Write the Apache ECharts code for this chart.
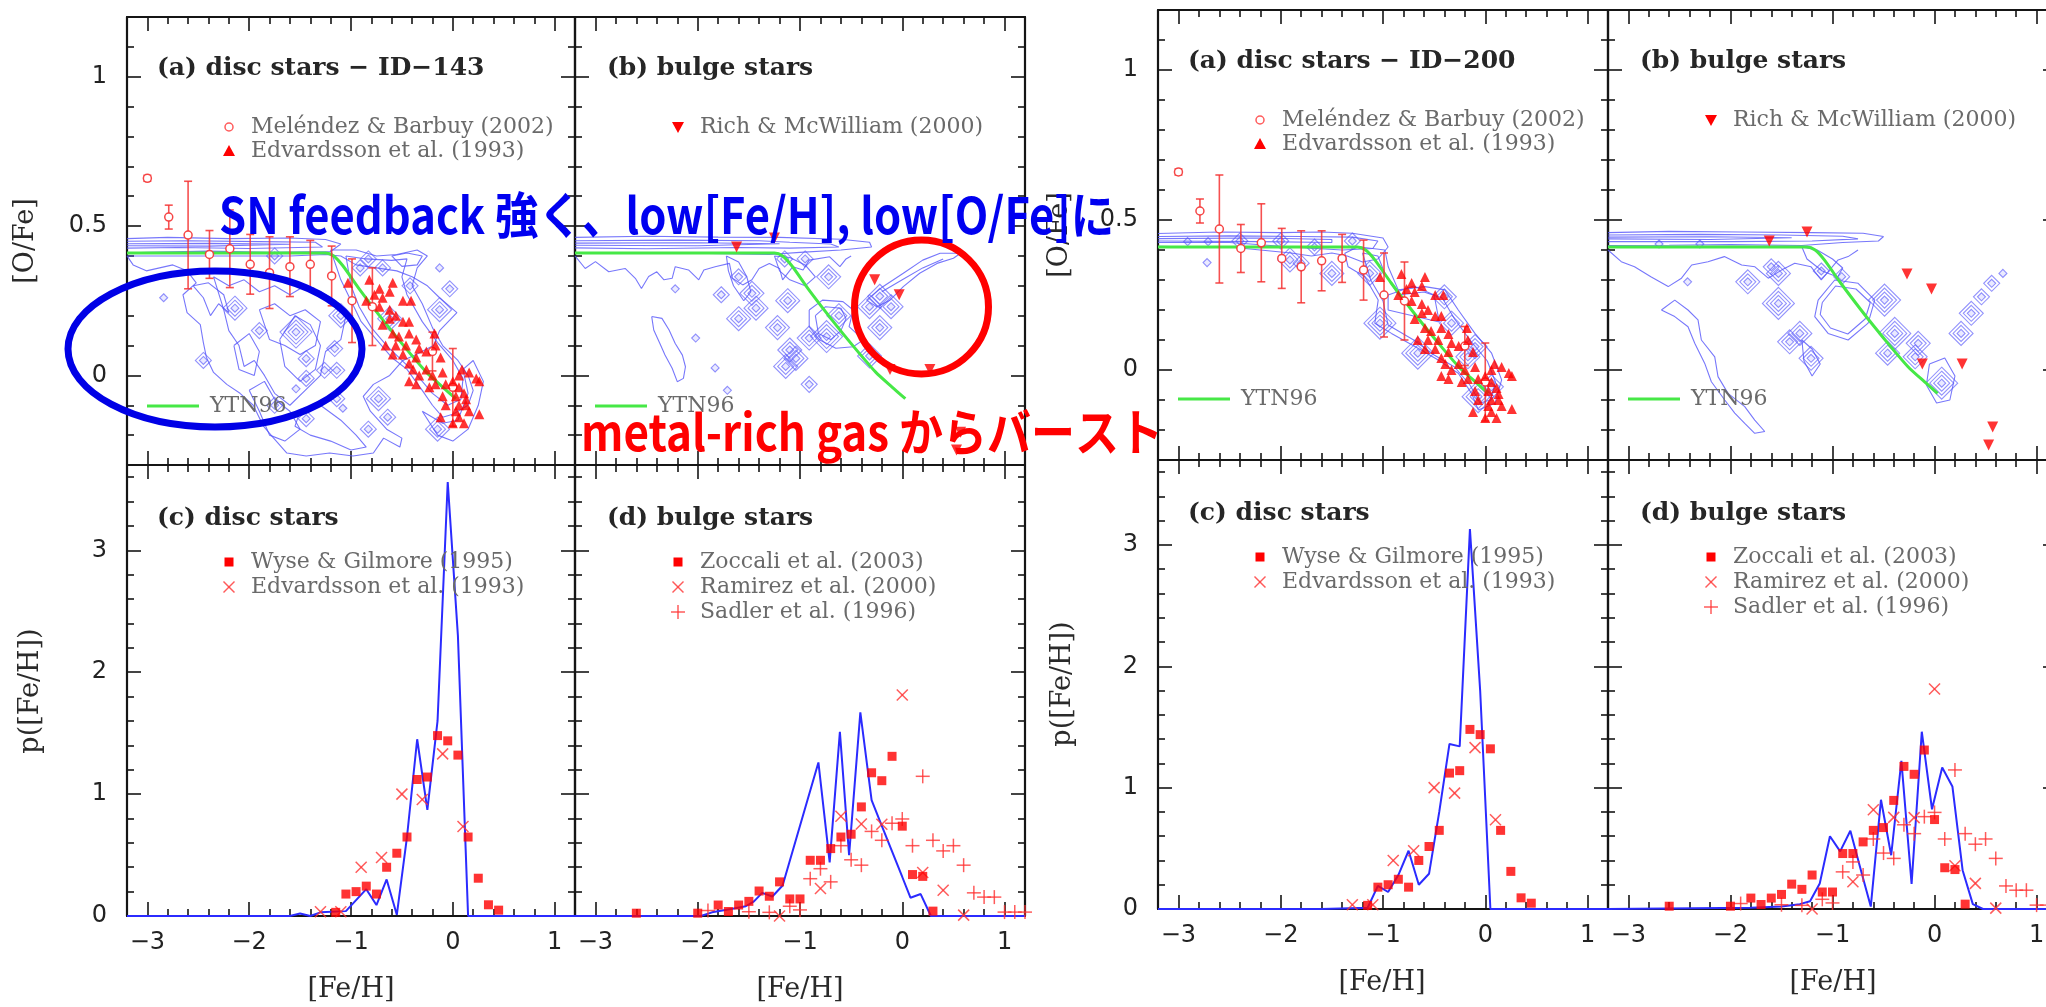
<!DOCTYPE html>
<html>
<head>
<meta charset="utf-8">
<script src="https://cdn.jsdelivr.net/npm/echarts@6/dist/echarts.min.js"></script>
<style>html,body{margin:0;padding:0;background:#fff}#chart{width:2046px;height:1007px}</style>
</head>
<body>
<div id="chart"></div>
<script>
// ---------- observational data (same in both figures) ----------
// Melendez & Barbuy (2002): [Fe/H], [O/Fe], error
const melendezFeH = [-3.0, -2.79, -2.6, -2.39, -2.19, -1.99, -1.8, -1.6, -1.4, -1.19, -0.99, -0.79, -0.2, 0.0];
const melendezOFe = [0.66, 0.53, 0.47, 0.405, 0.424, 0.372, 0.344, 0.364, 0.372, 0.333, 0.25, 0.23, 0.08, -0.04];
const melendezErr = [0.01, 0.04, 0.18, 0.08, 0.13, 0.1, 0.12, 0.1, 0.08, 0.1, 0.14, 0.13, 0.065, 0.13];

// Edvardsson et al. (1993) disc stars: [Fe/H], [O/Fe]
const edvardssonOFe = [
  [-1.03,0.31],[-0.82,0.32],[-0.72,0.29],[-0.59,0.31],[-0.77,0.27],[-0.69,0.26],[-0.62,0.28],[-0.49,0.25],
  [-0.85,0.25],[-0.72,0.23],[-0.62,0.22],[-0.56,0.20],[-0.49,0.18],[-0.43,0.18],[-0.41,0.25],[-0.62,0.19],
  [-0.69,0.17],[-0.59,0.14],[-0.53,0.13],[-0.43,0.14],[-0.56,0.10],[-0.46,0.10],[-0.36,0.12],[-0.33,0.09],
  [-0.26,0.08],[-0.18,0.14],[-0.17,0.10],[-0.12,0.06],[-0.49,0.07],[-0.43,0.04],[-0.36,0.06],[-0.66,0.10],
  [-0.59,0.07],[-0.39,0.02],[-0.33,0.0],[-0.26,0.02],[-0.20,0.0],[-0.10,0.01],[-0.43,-0.02],[-0.36,-0.03],
  [-0.23,-0.04],[-0.17,-0.03],[-0.07,-0.03],[0.0,-0.02],[0.06,0.0],[0.09,0.02],[0.16,0.01],[0.23,-0.01],
  [0.26,-0.02],[0.06,-0.04],[0.11,-0.06],[0.03,-0.07],[0.13,-0.08],[-0.10,-0.07],[-0.07,-0.10],[0.03,-0.12],
  [0.06,-0.14],[0.11,-0.16],[0.16,-0.12],[0.26,-0.13],[-0.12,-0.14],[0.0,-0.16],[0.06,-0.10],[0.13,-0.10]
];

// Rich & McWilliam (2000) bulge stars
const richOFe = [[-1.62,0.43],[-1.25,0.46],[-0.27,0.32],[-0.03,0.27],[-0.12,0.02],[0.27,0.02],[0.57,-0.19],[0.53,-0.25]];

// YTN96 chemical evolution model
const ytn96 = [[-3.2,0.41],[-1.25,0.41],[-1.17,0.40],[-1.08,0.367],[-0.92,0.29],[-0.72,0.2],[-0.59,0.144],[-0.43,0.078],[-0.26,0.011],[-0.1,-0.039],[0.03,-0.078]];

// metallicity distributions
const wyseMDF = [[-1.15,0.03],[-1.05,0.18],[-0.95,0.2],[-0.85,0.245],[-0.75,0.18],[-0.65,0.4],[-0.55,0.515],[-0.45,0.648],[-0.35,1.12],[-0.25,1.14],[-0.15,1.48],[-0.05,1.437],[0.05,1.32],[0.15,0.648],[0.25,0.31],[0.35,0.092],[0.45,0.048]];
const edvardssonMDF = [[-1.3,0.035],[-1.1,0.035],[-0.9,0.4],[-0.7,0.48],[-0.5,1.0],[-0.3,0.955],[-0.1,1.33],[0.1,0.735]];
const zoccaliMDF = [[-2.6,0.023],[-2.0,0.023],[-1.8,0.09],[-1.7,0.037],[-1.6,0.09],[-1.5,0.12],[-1.4,0.205],[-1.3,0.162],[-1.2,0.28],[-1.1,0.14],[-1.0,0.14],[-0.9,0.457],[-0.8,0.457],[-0.7,0.553],[-0.6,0.648],[-0.5,0.671],[-0.4,0.895],[-0.3,1.175],[-0.2,1.11],[-0.1,1.31],[0.0,0.737],[0.1,0.34],[0.2,0.325],[0.3,0.04]];
const ramirezMDF = [[-1.2,0.0],[-0.8,0.225],[-0.6,0.818],[-0.4,0.755],[-0.2,0.753],[0.0,1.813],[0.2,0.357],[0.4,0.211],[0.6,0.007]];
const sadlerMDF = [[-1.9,0.045],[-1.5,0.035],[-1.3,0.03],[-1.1,0.08],[-1.0,0.05],[-0.9,0.306],[-0.8,0.388],[-0.7,0.28],[-0.6,0.577],[-0.5,0.461],[-0.4,0.417],[-0.3,0.694],[-0.2,0.621],[-0.1,0.761],[0.0,0.796],[0.1,0.577],[0.2,1.146],[0.3,0.621],[0.4,0.534],[0.5,0.577],[0.6,0.417],[0.7,0.19],[0.8,0.155],[0.9,0.155],[1.0,0.032],[1.1,0.032],[1.2,0.032]];

// ---------- simulation ID-143 ----------
const id143DiscMDF = [[-3.2,0],[-1.6,0],[-1.5,0.02],[-1.4,0.0],[-1.3,0.03],[-1.05,0.04],[-0.85,0.22],[-0.75,0.09],[-0.65,0.30],[-0.55,0.01],[-0.45,0.65],[-0.35,1.45],[-0.25,0.87],[-0.15,1.6],[-0.05,3.56],[0.05,2.3],[0.15,0.0],[1.2,0]];
const id143BulgeMDF = [[-3.2,0],[-1.97,0],[-1.86,0.03],[-1.66,0.06],[-1.53,0.08],[-1.45,0.12],[-1.37,0.19],[-1.27,0.16],[-1.17,0.25],[-0.82,1.26],[-0.71,0.44],[-0.61,1.51],[-0.52,0.5],[-0.41,1.67],[-0.3,0.95],[-0.2,0.74],[-0.1,0.53],[0.0,0.32],[0.08,0.15],[0.18,0.18],[0.28,0.0],[1.2,0]];

const id143DiscContours = [
  [[-3.2,0.458],[-2.8,0.462],[-2.2,0.458],[-1.6,0.46],[-1.25,0.455],[-1.1,0.44],[-1.2,0.415],[-1.8,0.412],[-2.4,0.416],[-3.0,0.412],[-3.2,0.41]],
  [[-3.2,0.449],[-2.6,0.451],[-1.9,0.448],[-1.35,0.446],[-1.28,0.43],[-2.0,0.425],[-2.7,0.428],[-3.2,0.426]],
  [[-3.2,0.441],[-2.4,0.442],[-1.6,0.439],[-1.6,0.433],[-2.4,0.433],[-3.2,0.434]],
  [[-3.2,0.40],[-3.14,0.37],[-3.01,0.35],[-2.88,0.36],[-2.75,0.37],[-2.61,0.35],[-2.52,0.31],[-2.65,0.27],[-2.61,0.21],[-2.48,0.17],[-2.45,0.11],[-2.42,0.06],[-2.35,0.01],[-2.22,-0.03],[-2.09,-0.06],[-1.96,-0.10],[-1.86,-0.17],[-1.76,-0.21],[-1.63,-0.26],[-1.44,-0.27],[-1.21,-0.26],[-0.98,-0.27],[-0.78,-0.26],[-0.68,-0.21],[-0.52,-0.24],[-0.50,-0.21],[-0.65,-0.18],[-0.81,-0.12],[-0.88,-0.07],[-0.78,-0.03],[-0.62,0.0],[-0.49,0.05],[-0.36,0.07],[-0.19,0.10],[-0.13,0.15],[0.04,0.21],[-0.13,0.26],[-0.25,0.30],[-0.40,0.33],[-0.55,0.35],[-0.75,0.36],[-0.95,0.37],[-1.1,0.40],[-1.25,0.405],[-1.6,0.40],[-2.2,0.40],[-3.2,0.40]],
  [[-2.35,0.33],[-2.2,0.30],[-2.05,0.32],[-1.9,0.28],[-1.75,0.30],[-1.6,0.27],[-1.45,0.30],[-1.3,0.28],[-1.15,0.25],[-1.05,0.2],[-1.1,0.12],[-1.25,0.08],[-1.3,0.0],[-1.45,-0.05],[-1.6,-0.1],[-1.75,-0.06],[-1.85,0.0],[-1.95,0.05],[-2.05,0.03],[-2.1,0.1],[-2.2,0.15],[-2.25,0.22],[-2.35,0.33]],
  [[-1.9,0.22],[-1.75,0.24],[-1.6,0.2],[-1.45,0.22],[-1.3,0.18],[-1.35,0.1],[-1.5,0.07],[-1.65,0.1],[-1.8,0.12],[-1.9,0.22]],
  [[-1.2,0.42],[-0.95,0.42],[-0.75,0.40],[-0.55,0.405],[-0.35,0.42],[-0.25,0.40],[-0.35,0.36],[-0.4,0.3],[-0.3,0.24],[-0.2,0.16],[-0.1,0.10],[0.05,0.05],[0.15,0.0],[0.2,-0.05],[0.15,-0.1],[0.0,-0.13],[-0.1,-0.14],[-0.2,-0.1],[-0.3,-0.05],[-0.45,0.02],[-0.6,0.06],[-0.75,0.12],[-0.9,0.18],[-1.0,0.25],[-1.1,0.32],[-1.2,0.42]],
  [[-1.05,0.40],[-0.85,0.39],[-0.6,0.385],[-0.45,0.39],[-0.5,0.33],[-0.45,0.27],[-0.3,0.18],[-0.15,0.11],[0.0,0.05],[0.1,-0.01],[0.08,-0.08],[-0.05,-0.1],[-0.2,-0.06],[-0.35,0.0],[-0.5,0.05],[-0.65,0.1],[-0.8,0.16],[-0.92,0.23],[-1.0,0.3],[-1.05,0.40]],
  [[-1.5,-0.12],[-1.3,-0.1],[-1.1,-0.15],[-0.95,-0.2],[-0.85,-0.24],[-1.0,-0.25],[-1.2,-0.22],[-1.4,-0.2],[-1.55,-0.17],[-1.5,-0.12]],
  [[-0.6,0.40],[-0.45,0.41],[-0.3,0.40],[-0.35,0.37],[-0.5,0.365],[-0.6,0.40]],
  [[-2.0,-0.05],[-1.9,-0.12],[-1.8,-0.2],[-1.65,-0.22],[-1.5,-0.18],[-1.6,-0.12],[-1.75,-0.08],[-1.85,-0.02],[-2.0,-0.05]],
  [[-0.3,-0.12],[-0.15,-0.2],[0.0,-0.22],[0.15,-0.18],[0.25,-0.1],[0.3,-0.02],[0.2,0.05],[0.1,0.02],[0.15,-0.06],[0.05,-0.15],[-0.1,-0.16],[-0.3,-0.12]],
  [[-2.55,0.3],[-2.45,0.26],[-2.38,0.2],[-2.3,0.24],[-2.2,0.21],[-2.25,0.27],[-2.4,0.31],[-2.55,0.3]],
  [[-1.7,0.12],[-1.55,0.2],[-1.4,0.17],[-1.3,0.1],[-1.35,0.02],[-1.5,-0.02],[-1.65,0.03],[-1.7,0.12]],
  [[-2.15,0.1],[-2.0,0.14],[-1.9,0.08],[-1.95,0.0],[-2.1,0.02],[-2.15,0.1]]
];
// nested contour cells: [Fe/H], [O/Fe], number of levels
const id143DiscCells = [
  [-2.84,0.26,1],[-2.14,0.225,3],[-1.75,0.40,2],[-1.54,0.145,4],[-1.44,0.056,2],[-1.44,-0.01,2],[-1.54,-0.045,1],
  [-1.26,0.017,2],[-1.14,0.017,2],[-1.14,-0.078,2],[-1.08,-0.11,1],[-1.44,-0.145,2],[-1.16,0.09,2],[-0.73,-0.078,3],
  [-0.64,-0.14,2],[-0.83,-0.18,2],[-0.15,-0.18,3],[-0.13,0.22,3],[-0.03,0.29,2],[-0.13,0.36,1],[-0.42,0.30,2],
  [-0.83,0.39,2],[-0.91,0.36,2],[-0.69,0.36,2],[-0.62,0.19,3],[-2.45,0.05,2],[-1.9,0.15,2],[-1.75,-0.1,2],[-1.1,0.2,3]
];

const id143BulgeContours = [
  [[-3.2,0.462],[-2.5,0.466],[-1.8,0.463],[-1.2,0.462],[-0.6,0.456],[-0.32,0.446],[-0.3,0.43],[-0.6,0.42],[-1.0,0.412],[-1.3,0.405],[-2.2,0.41],[-3.2,0.408]],
  [[-3.2,0.451],[-2.2,0.453],[-1.4,0.451],[-1.1,0.446],[-0.7,0.44],[-0.62,0.43],[-1.1,0.426],[-1.6,0.428],[-2.5,0.424],[-3.2,0.427]],
  [[-3.2,0.443],[-2.0,0.444],[-1.2,0.441],[-1.2,0.435],[-2.0,0.434],[-3.2,0.436]],
  [[-3.2,0.40],[-3.1,0.358],[-3.0,0.381],[-2.87,0.347],[-2.71,0.358],[-2.61,0.325],[-2.55,0.291],[-2.48,0.331],[-2.4,0.347],[-2.33,0.32],[-2.25,0.325],[-2.22,0.364],[-2.09,0.353],[-1.99,0.32],[-1.94,0.353],[-1.83,0.364],[-1.69,0.375],[-1.66,0.325],[-1.56,0.303],[-1.47,0.32],[-1.4,0.358],[-1.3,0.375],[-1.2,0.358],[-1.17,0.32],[-1.07,0.364],[-0.97,0.353],[-0.91,0.386],[-0.71,0.397],[-0.61,0.364],[-0.55,0.39],[-0.5,0.40]],
  [[-2.45,0.197],[-2.35,0.191],[-2.28,0.152],[-2.22,0.107],[-2.15,0.068],[-2.12,0.029],[-2.14,-0.01],[-2.2,-0.021],[-2.25,0.024],[-2.32,0.068],[-2.37,0.107],[-2.43,0.152],[-2.45,0.197]],
  [[-0.91,0.219],[-0.78,0.252],[-0.58,0.247],[-0.48,0.219],[-0.52,0.163],[-0.38,0.119],[-0.48,0.096],[-0.65,0.091],[-0.81,0.119],[-0.91,0.163],[-0.91,0.219]],
  [[-0.85,0.2],[-0.75,0.23],[-0.6,0.225],[-0.55,0.19],[-0.6,0.15],[-0.7,0.12],[-0.82,0.14],[-0.85,0.2]],
  [[-0.35,0.252],[-0.19,0.297],[0.01,0.342],[0.2,0.386],[0.37,0.409],[0.57,0.409],[0.5,0.392],[0.34,0.375],[0.17,0.342],[0.01,0.297],[-0.12,0.252],[-0.25,0.23],[-0.35,0.252]],
  [[-0.2,0.28],[0.0,0.32],[0.2,0.36],[0.4,0.39]],
  [[-1.72,0.40],[-1.6,0.38],[-1.52,0.33],[-1.48,0.28],[-1.55,0.25],[-1.65,0.3],[-1.7,0.35],[-1.72,0.40]],
  [[-1.25,0.40],[-1.1,0.395],[-0.95,0.37],[-0.85,0.33],[-0.95,0.3],[-1.1,0.32],[-1.2,0.35],[-1.25,0.40]]
];
const id143BulgeCells = [
  [-2.22,0.29,1],[-2.02,0.125,1],[-1.83,0.025,1],[-1.71,-0.05,1],[-1.6,0.19,3],[-1.47,0.275,3],[-1.43,0.225,3],
  [-1.22,0.16,3],[-1.12,0.25,3],[-1.1,0.085,3],[-1.04,0.057,3],[-1.14,0.03,3],[-0.91,0.125,3],[-0.74,0.13,4],
  [-0.91,-0.03,2],[-0.32,0.23,3],[-0.22,0.265,3],[-0.11,0.23,3],[-0.22,0.16,3],[-0.32,0.065,3],[-1.15,0.39,2],
  [-0.95,0.39,2],[-0.72,0.33,3],[-0.62,0.2,3],[-1.77,0.27,2],[-1.6,0.33,2]
];

// ---------- simulation ID-200 ----------
const id200DiscMDF = [[-3.2,0],[-1.6,0],[-1.15,0.01],[-1.05,0.19],[-0.95,0.14],[-0.85,0.28],[-0.75,0.48],[-0.65,0.2],[-0.55,0.29],[-0.45,0.8],[-0.35,1.36],[-0.25,1.34],[-0.15,3.13],[-0.05,1.8],[0.05,0.0],[1.2,0]];
const id200BulgeMDF = [[-3.2,0],[-1.8,0.01],[-1.5,0.02],[-1.32,0.04],[-1.22,0.064],[-1.125,0.21],[-1.025,0.6],[-0.925,0.475],[-0.825,0.645],[-0.725,0.33],[-0.625,0.02],[-0.525,0.9],[-0.425,0.443],[-0.325,1.22],[-0.225,0.207],[-0.125,1.461],[-0.025,0.822],[0.075,1.166],[0.175,1.01],[0.275,0.32],[0.375,0.04],[0.475,0.0],[1.2,0]];

const id200DiscContours = [
  [[-3.2,0.455],[-2.6,0.46],[-2.0,0.458],[-1.6,0.46],[-1.3,0.456],[-1.0,0.44],[-0.95,0.41],[-1.05,0.37],[-1.2,0.36],[-1.35,0.38],[-1.5,0.39],[-1.7,0.38],[-1.9,0.39],[-2.2,0.40],[-2.5,0.41],[-2.8,0.41],[-3.2,0.412]],
  [[-3.2,0.445],[-2.5,0.447],[-1.8,0.445],[-1.3,0.443],[-1.05,0.43],[-1.1,0.405],[-1.4,0.4],[-1.9,0.41],[-2.5,0.425],[-3.2,0.425]],
  [[-3.2,0.438],[-2.2,0.44],[-1.5,0.435],[-1.5,0.425],[-2.2,0.428],[-3.2,0.43]],
  [[-1.243,0.411],[-0.982,0.4],[-0.949,0.344],[-0.851,0.267],[-0.59,0.278],[-0.395,0.267],[-0.264,0.2],[-0.101,0.122],[0.062,0.056],[0.16,-0.033],[0.095,-0.111],[-0.068,-0.133],[-0.134,-0.078],[-0.264,-0.011],[-0.46,0.033],[-0.688,0.078],[-0.917,0.122],[-1.08,0.156],[-1.047,0.233],[-1.178,0.311],[-1.341,0.344],[-1.373,0.389],[-1.243,0.411]],
  [[-1.2,0.39],[-1.05,0.38],[-0.98,0.32],[-0.85,0.25],[-0.6,0.26],[-0.42,0.24],[-0.3,0.17],[-0.15,0.1],[0.02,0.03],[0.1,-0.04],[0.05,-0.1],[-0.05,-0.11],[-0.15,-0.05],[-0.3,0.01],[-0.5,0.05],[-0.7,0.1],[-0.95,0.15],[-1.0,0.23],[-1.12,0.3],[-1.2,0.39]],
  [[-0.95,0.25],[-0.7,0.28],[-0.5,0.25],[-0.45,0.16],[-0.7,0.18],[-0.95,0.2],[-0.95,0.25]]
];
const id200DiscCells = [
  [-2.91,0.428,1],[-2.71,0.428,1],[-2.72,0.358,1],[-1.91,0.367,3],[-1.8,0.356,2],[-1.5,0.322,3],[-1.67,0.41,2],
  [-1.13,0.322,3],[-1.03,0.156,4],[-0.66,0.056,4],[-0.4,0.244,3],[-0.33,0.156,3],[-0.1,0.078,3],[-0.07,-0.089,4],
  [0.06,-0.056,3],[-0.17,0.044,3],[-2.4,0.43,2],[-2.0,0.43,2],[-1.3,0.43,2]
];

const id200BulgeContours = [
  [[-3.2,0.458],[-2.6,0.462],[-1.9,0.46],[-1.2,0.458],[-0.7,0.456],[-0.5,0.445],[-0.55,0.43],[-0.9,0.425],[-1.3,0.415],[-2.0,0.418],[-2.6,0.416],[-3.2,0.415]],
  [[-3.2,0.45],[-2.3,0.452],[-1.5,0.45],[-0.9,0.446],[-0.75,0.437],[-1.2,0.43],[-2.0,0.428],[-3.2,0.428]],
  [[-3.2,0.443],[-2.2,0.444],[-1.4,0.441],[-1.4,0.436],[-2.2,0.435],[-3.2,0.437]],
  [[-3.2,0.40],[-3.07,0.361],[-2.94,0.344],[-2.78,0.311],[-2.61,0.278],[-2.48,0.306],[-2.38,0.35],[-2.22,0.361],[-2.06,0.378],[-1.89,0.35],[-1.76,0.344],[-1.63,0.306],[-1.5,0.333],[-1.37,0.356],[-1.21,0.344],[-1.11,0.3],[-0.945,0.367],[-0.847,0.378],[-0.75,0.40]],
  [[-2.677,0.2],[-2.546,0.233],[-2.416,0.2],[-2.318,0.167],[-2.285,0.1],[-2.154,0.044],[-2.122,-0.022],[-2.024,-0.078],[-1.86,-0.122],[-1.762,-0.167],[-1.664,-0.205],[-1.762,-0.211],[-1.86,-0.178],[-1.958,-0.144],[-2.056,-0.1],[-2.187,-0.039],[-2.252,0.022],[-2.35,0.089],[-2.416,0.144],[-2.546,0.178],[-2.677,0.2]],
  [[-1.141,0.233],[-0.978,0.3],[-0.749,0.289],[-0.586,0.233],[-0.651,0.156],[-0.847,0.1],[-1.043,0.122],[-1.174,0.178],[-1.141,0.233]],
  [[-1.1,0.225],[-0.97,0.28],[-0.77,0.27],[-0.63,0.225],[-0.68,0.17],[-0.85,0.12],[-1.02,0.14],[-1.12,0.185],[-1.1,0.225]],
  [[-1.3,0.41],[-1.15,0.4],[-1.0,0.37],[-0.9,0.34],[-0.95,0.31],[-1.1,0.33],[-1.25,0.37],[-1.3,0.41]],
  [[-0.05,0.02],[0.1,0.04],[0.2,-0.02],[0.15,-0.1],[0.02,-0.11],[-0.08,-0.05],[-0.05,0.02]],
  [[-1.3,0.1],[-1.2,0.07],[-1.12,0.02],[-1.2,-0.02],[-1.28,0.03],[-1.3,0.1]]
];
const id200BulgeCells = [
  [-1.83,0.294,3],[-1.53,0.322,3],[-1.53,0.222,4],[-1.42,0.094,3],[-1.32,0.122,3],[-1.21,0.039,3],[-0.49,0.233,4],
  [-0.39,0.122,4],[-0.16,0.089,3],[-0.46,0.056,3],[-0.19,0.044,3],[0.07,-0.044,4],[0.26,0.122,3],[0.36,0.189,3],
  [0.46,0.244,2],[0.56,0.289,2],[0.67,0.322,1],[-0.91,0.311,2],[-1.11,0.33,2],[-1.6,0.344,2],[-2.42,0.294,1],
  [-2.7,0.42,1],[-2.3,0.42,1]
];

// ---------- axis tick labels ----------
const feHTickLabels = [-3, -2, -1, 0, 1];
const oFeTickLabels = [0, 0.5, 1];
const pTickLabels = [0, 1, 2, 3];

// ---------- layout ----------
const RED = '#ff0000', RED_SOFT = 'rgba(255,50,50,0.8)', CONTOUR = 'rgba(85,85,250,0.8)';
const GREEN = 'rgb(70,232,70)', MODEL_BLUE = '#2b2bff';
const AXIS_COLOR = '#151515';
const TICK_FONT = 'DejaVu Sans', SERIF = 'DejaVu Serif';

const panels = [
  {left:127,  top:17,  width:448, height:448, kind:'ofe', yLabels:true},
  {left:575,  top:17,  width:450, height:448, kind:'ofe', yLabels:false},
  {left:127,  top:465, width:448, height:451, kind:'mdf', yLabels:true},
  {left:575,  top:465, width:450, height:451, kind:'mdf', yLabels:false},
  {left:1158, top:10,  width:450, height:450, kind:'ofe', yLabels:true},
  {left:1608, top:10,  width:449, height:450, kind:'ofe', yLabels:false},
  {left:1158, top:460, width:450, height:449, kind:'mdf', yLabels:true},
  {left:1608, top:460, width:449, height:449, kind:'mdf', yLabels:false}
];

function range(a, b, step) { const out = []; for (let v = a; v <= b + 1e-9; v += step) out.push(Math.round(v * 1000) / 1000); return out; }
const xMajor = feHTickLabels;
const xMinor = range(-3.0, 1.0, 0.2).filter(v => Math.abs(v - Math.round(v)) > 1e-6);
const ofeMajor = oFeTickLabels;
const ofeMinor = range(-0.2, 1.1, 0.1).filter(v => Math.abs(v * 2 - Math.round(v * 2)) > 1e-6);
const pMajor = pTickLabels;
const pMinor = range(0.2, 3.6, 0.2).filter(v => Math.abs(v - Math.round(v)) > 1e-6);

const fmt = v => (v < 0 ? '\u2212' + Math.abs(v) : String(v));

const grids = [], xAxes = [], yAxes = [];
panels.forEach((p, g) => {
  grids.push({left:p.left, top:p.top, width:p.width, height:p.height, containLabel:false, outerBoundsMode:'none'});
  const xl = p.kind === 'mdf';
  [['bottom', true], ['bottom', false], ['top', true], ['top', false]].forEach(([pos, major]) => {
    xAxes.push({
      type:'value', gridIndex:g, min:-3.2, max:1.2, position:pos, silent:true,
      axisLine:{show:major, onZero:false, lineStyle:{color:AXIS_COLOR, width:2.2}},
      axisTick:{show:true, inside:true, length:major ? 14 : 7, customValues:major ? xMajor : xMinor, lineStyle:{color:AXIS_COLOR, width:1.6}},
      axisLabel:{show:xl && pos === 'bottom' && major, customValues:feHTickLabels, formatter:fmt, margin:15,
                 fontFamily:TICK_FONT, fontSize:24, color:'#222'},
      splitLine:{show:false}
    });
  });
  const isOfe = p.kind === 'ofe';
  [['left', true], ['left', false], ['right', true], ['right', false]].forEach(([pos, major]) => {
    yAxes.push({
      type:'value', gridIndex:g, min:isOfe ? -0.3 : 0, max:isOfe ? 1.2 : 3.7, position:pos, silent:true,
      axisLine:{show:major, onZero:false, lineStyle:{color:AXIS_COLOR, width:2.2}},
      axisTick:{show:true, inside:true, length:major ? 14 : 7,
                customValues:major ? (isOfe ? ofeMajor : pMajor) : (isOfe ? ofeMinor : pMinor),
                lineStyle:{color:AXIS_COLOR, width:1.6}},
      axisLabel:{show:p.yLabels && pos === 'left' && major, customValues:isOfe ? oFeTickLabels : pTickLabels,
                 formatter:fmt, margin:20, fontFamily:TICK_FONT, fontSize:24, color:'#222'},
      splitLine:{show:false}
    });
  });
});

// ---------- series builders ----------
const series = [];
const ax = g => ({xAxisIndex:4 * g, yAxisIndex:4 * g});

function addContours(g, polys) {
  polys.forEach(poly => series.push(Object.assign({
    type:'line', data:poly, symbol:'none', silent:true, z:1, clip:true,
    lineStyle:{color:CONTOUR, width:1.1}
  }, ax(g))));
}
function addCells(g, cells) {
  for (let k = 1; k <= 4; k++) {
    const d = cells.filter(c => c[2] >= k).map(c => [c[0], c[1]]);
    if (!d.length) continue;
    series.push(Object.assign({
      type:'scatter', data:d, symbol:'diamond', symbolSize:[8 * k, 8 * k], silent:true, z:1,
      itemStyle:{color:k === 1 ? 'rgba(110,110,255,0.18)' : 'rgba(0,0,0,0)', borderColor:CONTOUR, borderWidth:1.1}
    }, ax(g)));
  }
}
function addModelLine(g, data) {
  series.push(Object.assign({type:'line', data:data, symbol:'none', smooth:0.25, silent:true, z:3,
    lineStyle:{color:GREEN, width:3}}, ax(g)));
}
function addMelendez(g) {
  series.push(Object.assign({
    type:'custom', z:4, silent:true,
    data:melendezFeH.map((x, i) => [x, melendezOFe[i], melendezErr[i]]),
    renderItem(params, api) {
      const x = api.value(0), y = api.value(1), e = api.value(2);
      const c = api.coord([x, y]), hi = api.coord([x, y + e]), lo = api.coord([x, y - e]);
      const st = {stroke:'rgba(245,50,50,0.85)', lineWidth:1.6};
      return {type:'group', children:[
        {type:'line', shape:{x1:c[0], y1:hi[1], x2:c[0], y2:lo[1]}, style:st},
        {type:'line', shape:{x1:c[0] - 4, y1:hi[1], x2:c[0] + 4, y2:hi[1]}, style:st},
        {type:'line', shape:{x1:c[0] - 4, y1:lo[1], x2:c[0] + 4, y2:lo[1]}, style:st},
        {type:'circle', shape:{cx:c[0], cy:c[1], r:4}, style:{fill:'#fff', stroke:'rgba(245,50,50,0.9)', lineWidth:1.5}}
      ]};
    }
  }, ax(g)));
}
function addScatter(g, data, symbol, size, rotate) {
  series.push(Object.assign({type:'scatter', data:data, symbol:symbol, symbolSize:size, symbolRotate:rotate || 0,
    silent:true, z:5, itemStyle:{color:RED}}, ax(g)));
}
function addCrosses(g, data, plus) {
  series.push(Object.assign({
    type:'custom', z:5, silent:true, data:data,
    renderItem(params, api) {
      const c = api.coord([api.value(0), api.value(1)]);
      const s = plus ? 7 : 5.5, st = {stroke:RED_SOFT, lineWidth:1.5};
      const lines = plus
        ? [[c[0] - s, c[1], c[0] + s, c[1]], [c[0], c[1] - s, c[0], c[1] + s]]
        : [[c[0] - s, c[1] - s, c[0] + s, c[1] + s], [c[0] - s, c[1] + s, c[0] + s, c[1] - s]];
      return {type:'group', children:lines.map(l => ({type:'line', shape:{x1:l[0], y1:l[1], x2:l[2], y2:l[3]}, style:st}))};
    }
  }, ax(g)));
}
function addMDF(g, data) {
  series.push(Object.assign({type:'line', data:data, symbol:'none', silent:true, z:3,
    lineStyle:{color:MODEL_BLUE, width:2}}, ax(g)));
}

// ID-143 figure
addContours(0, id143DiscContours); addCells(0, id143DiscCells); addModelLine(0, ytn96);
addMelendez(0); addScatter(0, edvardssonOFe, 'triangle', 10);
addContours(1, id143BulgeContours); addCells(1, id143BulgeCells); addModelLine(1, ytn96);
addScatter(1, richOFe, 'triangle', 11, 180);
addMDF(2, id143DiscMDF); addScatter(2, wyseMDF, 'rect', 9); addCrosses(2, edvardssonMDF, false);
addMDF(3, id143BulgeMDF); addScatter(3, zoccaliMDF, 'rect', 9); addCrosses(3, ramirezMDF, false); addCrosses(3, sadlerMDF, true);
// ID-200 figure
addContours(4, id200DiscContours); addCells(4, id200DiscCells); addModelLine(4, ytn96);
addMelendez(4); addScatter(4, edvardssonOFe, 'triangle', 10);
addContours(5, id200BulgeContours); addCells(5, id200BulgeCells); addModelLine(5, ytn96);
addScatter(5, richOFe, 'triangle', 11, 180);
addMDF(6, id200DiscMDF); addScatter(6, wyseMDF, 'rect', 9); addCrosses(6, edvardssonMDF, false);
addMDF(7, id200BulgeMDF); addScatter(7, zoccaliMDF, 'rect', 9); addCrosses(7, ramirezMDF, false); addCrosses(7, sadlerMDF, true);

// ---------- texts, legends, annotations ----------
const G = [];
function text(x, y, str, font, fill, opts) {
  G.push(Object.assign({type:'text', x:x, y:y, z:50, silent:true,
    style:{text:str, font:font, fill:fill, align:'left', verticalAlign:'middle'}}, opts || {}));
}
const TITLE_FONT = 'bold 25px "' + SERIF + '"';
const LEG_FONT = '22px "' + SERIF + '"';
const NAME_FONT = '27px "' + SERIF + '"';
const LEG_GREY = '#6a6a6a';

function legendItem(x, y, kind, label) {
  const st = {stroke:RED_SOFT, lineWidth:1.5};
  if (kind === 'circle') G.push({type:'circle', z:50, shape:{cx:x, cy:y, r:4}, style:{fill:'none', stroke:RED_SOFT, lineWidth:1.5}});
  if (kind === 'up') G.push({type:'polygon', z:50, shape:{points:[[x, y - 6], [x + 6, y + 5], [x - 6, y + 5]]}, style:{fill:RED}});
  if (kind === 'down') G.push({type:'polygon', z:50, shape:{points:[[x, y + 6], [x + 6, y - 5], [x - 6, y - 5]]}, style:{fill:RED}});
  if (kind === 'rect') G.push({type:'rect', z:50, shape:{x:x - 4.5, y:y - 4.5, width:9, height:9}, style:{fill:RED}});
  if (kind === 'cross') { G.push({type:'line', z:50, shape:{x1:x - 5.5, y1:y - 5.5, x2:x + 5.5, y2:y + 5.5}, style:st});
                          G.push({type:'line', z:50, shape:{x1:x - 5.5, y1:y + 5.5, x2:x + 5.5, y2:y - 5.5}, style:st}); }
  if (kind === 'plus') { G.push({type:'line', z:50, shape:{x1:x - 7, y1:y, x2:x + 7, y2:y}, style:st});
                         G.push({type:'line', z:50, shape:{x1:x, y1:y - 7, x2:x, y2:y + 7}, style:st}); }
  text(x + 22, y, label, LEG_FONT, LEG_GREY);
}
function ytnLegend(x, y) {
  G.push({type:'line', z:50, shape:{x1:x, y1:y, x2:x + 52, y2:y}, style:{stroke:GREEN, lineWidth:3}});
  text(x + 63, y, 'YTN96', LEG_FONT, LEG_GREY);
}

const figures = [
  {id:'143', top:17, ax:127, bx:575, mid:465, bottom:916, oName:[26, 241], pName:[31, 691]},
  {id:'200', top:10, ax:1158, bx:1608, mid:460, bottom:909, oName:[1060, 235], pName:[1063, 684]}
];
figures.forEach(f => {
  const ax0 = f.ax, bx0 = f.bx;
  text(ax0 + 30, f.top + 51, '(a) disc stars \u2212 ID\u2212' + f.id, TITLE_FONT, '#262626');
  text(bx0 + 32, f.top + 51, '(b) bulge stars', TITLE_FONT, '#262626');
  text(ax0 + 30, f.mid + 53, '(c) disc stars', TITLE_FONT, '#262626');
  text(bx0 + 32, f.mid + 53, '(d) bulge stars', TITLE_FONT, '#262626');

  legendItem(ax0 + 102, f.top + 110, 'circle', 'Mel\u00e9ndez & Barbuy (2002)');
  legendItem(ax0 + 102, f.top + 134, 'up', 'Edvardsson et al. (1993)');
  ytnLegend(ax0 + 20, f.top + 389);
  legendItem(bx0 + 103, f.top + 110, 'down', 'Rich & McWilliam (2000)');
  ytnLegend(bx0 + 20, f.top + 389);

  legendItem(ax0 + 102, f.mid + 97, 'rect', 'Wyse & Gilmore (1995)');
  legendItem(ax0 + 102, f.mid + 122, 'cross', 'Edvardsson et al. (1993)');
  legendItem(bx0 + 103, f.mid + 97, 'rect', 'Zoccali et al. (2003)');
  legendItem(bx0 + 103, f.mid + 122, 'cross', 'Ramirez et al. (2000)');
  legendItem(bx0 + 103, f.mid + 147, 'plus', 'Sadler et al. (1996)');

  G.push({type:'text', x:f.oName[0], y:f.oName[1], rotation:Math.PI / 2, z:50, silent:true,
          style:{text:'[O/Fe]', font:NAME_FONT, fill:'#2a2a2a', align:'center', verticalAlign:'middle'}});
  G.push({type:'text', x:f.pName[0], y:f.pName[1], rotation:Math.PI / 2, z:50, silent:true,
          style:{text:'p([Fe/H])', font:NAME_FONT, fill:'#2a2a2a', align:'center', verticalAlign:'middle'}});
  [ax0 + 224, bx0 + 225].forEach(cx => G.push({type:'text', x:cx, y:f.bottom + 74, z:50, silent:true,
          style:{text:'[Fe/H]', font:NAME_FONT, fill:'#2a2a2a', align:'center', verticalAlign:'middle'}}));
});

// hand-drawn emphasis marks
G.push({type:'ellipse', z:90, silent:true, shape:{cx:215, cy:349, rx:147, ry:78}, style:{fill:'none', stroke:'#0000e6', lineWidth:7}});
G.push({type:'circle', z:90, silent:true, shape:{cx:921.5, cy:307, r:67}, style:{fill:'none', stroke:'#ff0000', lineWidth:7}});
text(219, 215, 'SN feedback \u5f37\u304f\u3001low[Fe/H], low[O/Fe]\u306b', 'bold 50px "Noto Sans CJK JP"', '#0000f0', {z:95, scaleX:0.87});
text(581, 432, 'metal-rich gas \u304b\u3089\u30d0\u30fc\u30b9\u30c8', 'bold 50px "Noto Sans CJK JP"', '#ff0000', {z:95, scaleX:0.88});

const chart = echarts.init(document.getElementById('chart'), null, {renderer:'canvas'});
chart.setOption({
  animation:false,
  backgroundColor:'#ffffff',
  grid:grids, xAxis:xAxes, yAxis:yAxes,
  series:series,
  graphic:{elements:G}
});
</script>
</body>
</html>
